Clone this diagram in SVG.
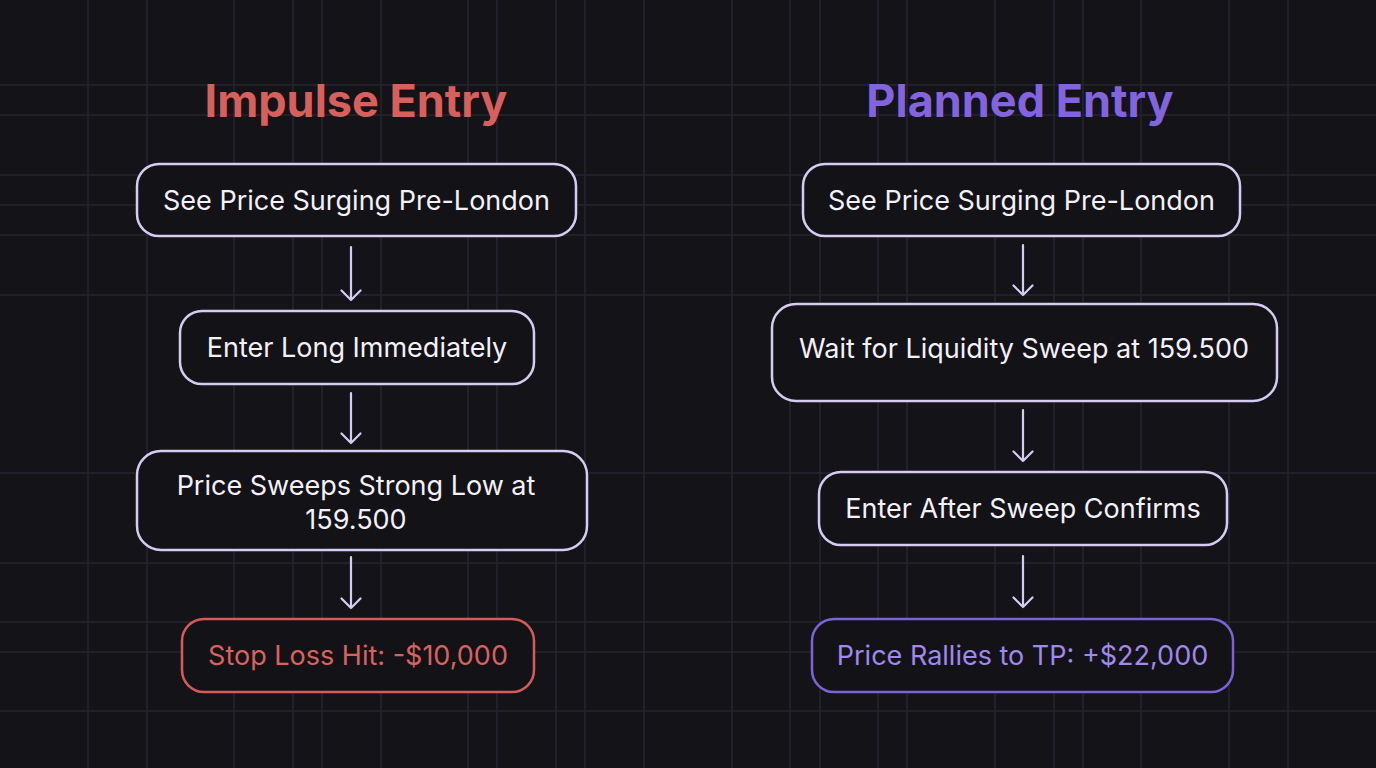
<svg xmlns="http://www.w3.org/2000/svg" width="1376" height="768" viewBox="0 0 1376 768">
<style>
.grid line{stroke:#26242f;stroke-width:1.5}
.node rect{fill:#131217;stroke:#d6ccf2;stroke-width:2.5}
.node text{font-family:Inter,"Noto Sans",sans-serif;font-size:27px;fill:#f3f1f8;text-anchor:middle}
.title{font-family:Inter,"Noto Sans",sans-serif;font-size:45px;font-weight:700;text-anchor:middle}
.conn path{fill:none;stroke:#d6ccf2;stroke-width:2.2;stroke-linecap:round;stroke-linejoin:round}
</style>
<rect width="1376" height="768" fill="#141318"/>
<g class="grid">
<line x1="88" y1="0" x2="88" y2="768"/><line x1="147" y1="0" x2="147" y2="768"/><line x1="234" y1="0" x2="234" y2="768"/><line x1="293" y1="0" x2="293" y2="768"/><line x1="322" y1="0" x2="322" y2="768"/><line x1="381" y1="0" x2="381" y2="768"/><line x1="468" y1="0" x2="468" y2="768"/><line x1="497" y1="0" x2="497" y2="768"/><line x1="556" y1="0" x2="556" y2="768"/><line x1="585" y1="0" x2="585" y2="768"/><line x1="644" y1="0" x2="644" y2="768"/><line x1="732" y1="0" x2="732" y2="768"/><line x1="790" y1="0" x2="790" y2="768"/><line x1="820" y1="0" x2="820" y2="768"/><line x1="878" y1="0" x2="878" y2="768"/><line x1="907" y1="0" x2="907" y2="768"/><line x1="995" y1="0" x2="995" y2="768"/><line x1="1054" y1="0" x2="1054" y2="768"/><line x1="1083" y1="0" x2="1083" y2="768"/><line x1="1141" y1="0" x2="1141" y2="768"/><line x1="1229" y1="0" x2="1229" y2="768"/><line x1="1288" y1="0" x2="1288" y2="768"/>
<line x1="0" y1="85" x2="1376" y2="85"/><line x1="0" y1="115" x2="1376" y2="115"/><line x1="0" y1="175" x2="1376" y2="175"/><line x1="0" y1="205" x2="1376" y2="205"/><line x1="0" y1="235" x2="1376" y2="235"/><line x1="0" y1="295" x2="1376" y2="295"/><line x1="0" y1="473" x2="1376" y2="473"/><line x1="0" y1="563" x2="1376" y2="563"/><line x1="0" y1="622" x2="1376" y2="622"/><line x1="0" y1="652" x2="1376" y2="652"/><line x1="0" y1="711" x2="1376" y2="711"/>
</g>
<text class="title" x="356" y="117" fill="#d75f5c">Impulse Entry</text>
<text class="title" x="1020" y="117" fill="#8265de">Planned Entry</text>
<g class="conn">
<path d="M351 247V300M341.5 290.5L351 300L360.5 290.5"/>
<path d="M351 393V443M341.5 433.5L351 443L360.5 433.5"/>
<path d="M351 557V608M341.5 598.5L351 608L360.5 598.5"/>
<path d="M1023 245V295M1013.5 285.5L1023 295L1032.5 285.5"/>
<path d="M1023 410V461M1013.5 451.5L1023 461L1032.5 451.5"/>
<path d="M1023 556V607M1013.5 597.5L1023 607L1032.5 597.5"/>
</g>
<g class="node" id="l1"><rect x="137" y="164" width="439" height="72" rx="22"/><text x="356.5" y="210">See Price Surging Pre-London</text></g>
<g class="node" id="l2"><rect x="180" y="311" width="354" height="73" rx="22"/><text x="357" y="357">Enter Long Immediately</text></g>
<g class="node" id="l3"><rect x="137" y="451" width="450" height="99" rx="24"/><text x="356" y="495">Price Sweeps Strong Low at</text><text x="356" y="529">159.500</text></g>
<g class="node" id="l4"><rect x="182" y="619" width="352" height="73" rx="22" style="stroke:#d65b58"/><text x="358" y="665" style="fill:#d9625e">Stop Loss Hit: -$10,000</text></g>
<g class="node" id="r1"><rect x="803" y="164" width="437" height="72" rx="22"/><text x="1021.5" y="210">See Price Surging Pre-London</text></g>
<g class="node" id="r2"><rect x="772" y="304" width="505" height="97" rx="24"/><text x="1024" y="358">Wait for Liquidity Sweep at 159.500</text></g>
<g class="node" id="r3"><rect x="819" y="472" width="408" height="73" rx="22"/><text x="1023" y="518">Enter After Sweep Confirms</text></g>
<g class="node" id="r4"><rect x="812" y="619" width="421" height="73" rx="22" style="stroke:#7d62d8"/><text x="1022.5" y="665" style="fill:#9f89ea">Price Rallies to TP: +$22,000</text></g>
</svg>
